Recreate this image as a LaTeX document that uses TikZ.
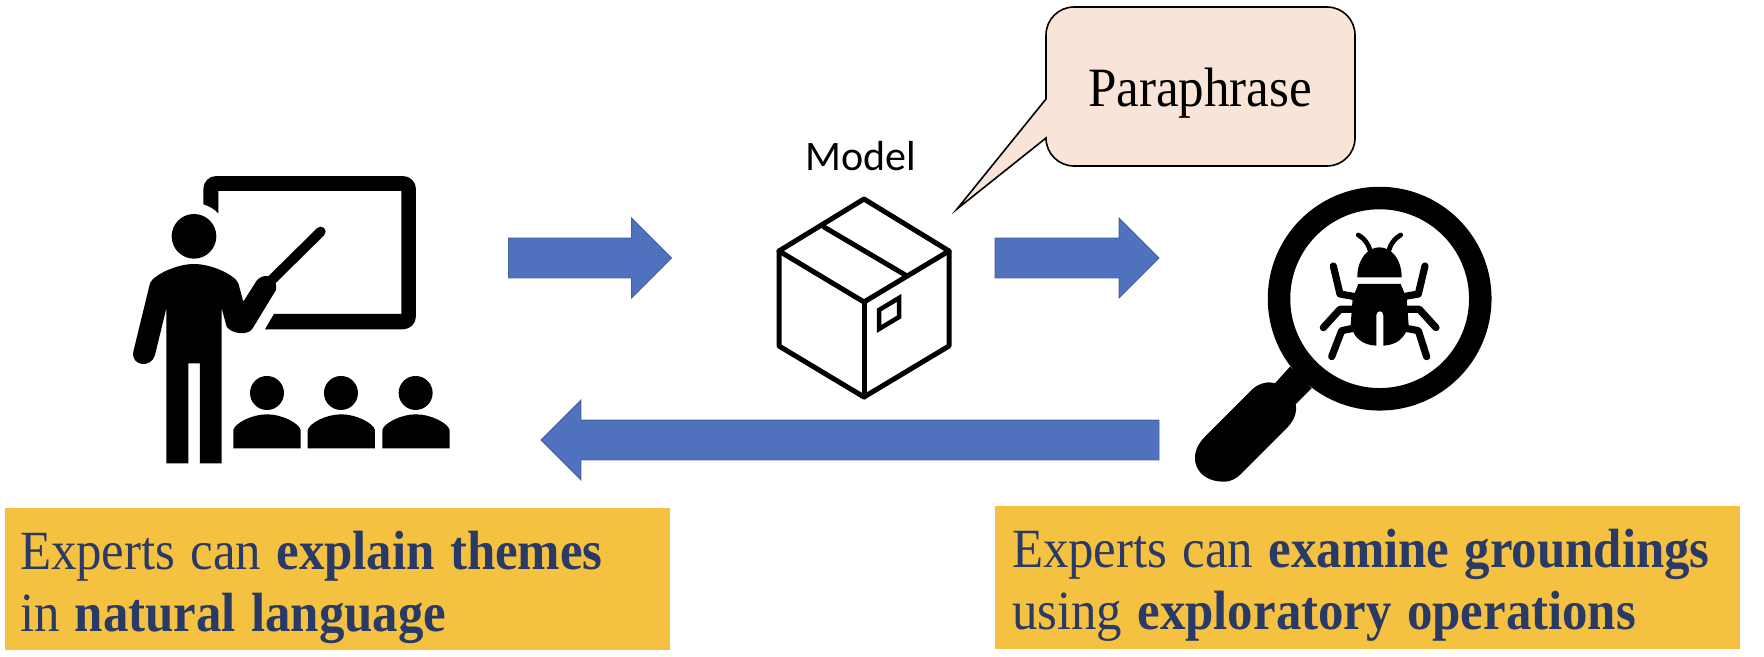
\documentclass[tikz,border=0pt]{standalone}
\usepackage{fontspec}
\setmainfont[FakeStretch=0.92, WordSpace=1.2]{Liberation Serif}
\newfontfamily\modelfont{Carlito}
\usetikzlibrary{shapes.arrows}
\definecolor{flowblue}{HTML}{4F71BE}
\definecolor{flowedge}{HTML}{41649E}
\definecolor{notefill}{HTML}{F4C141}
\definecolor{noteink}{HTML}{2A3A66}
\definecolor{bubblefill}{HTML}{F8E5D7}

\begin{document}
\begin{tikzpicture}[
    x=1pt, y=-1pt,
    flow/.style={single arrow, draw=flowedge, fill=flowblue, line width=0.8pt, inner sep=19.5pt, outer sep=0pt,
        minimum width=79pt, single arrow head extend=20pt, anchor=tail},
    note/.style={fill=notefill, anchor=north west, outer sep=0pt, inner sep=0pt},
    notetext/.style={text=noteink, inner sep=0pt, align=flush left, font=\fontsize{55.3}{61.5}\selectfont},
    boxedge/.style={line width=5pt, line join=round, line cap=round},
    leg/.style={line width=7.2pt, line cap=round, line join=round},
    antenna/.style={line width=4.8pt, line cap=round},
    bubble/.style={fill=bubblefill, draw=black, line width=1.6pt}
    ]
\useasboundingbox (0,0) rectangle (1764,656);

% Block arrows
\node[flow, minimum height=163pt] (explain) at (508.5,258) {};
\node[flow, minimum height=164pt] (inspect) at (995,258) {};
\node[flow, minimum height=618pt, shape border rotate=180] (feedback) at (1159,440) {};

% Teacher icon
\begin{scope}[shift={(100,150)}, x=0.3333pt, y=-0.3333pt]
\fill (310,163) {[rounded corners=13pt] -- (310,78) -- (948,78) -- (948,538) -- (700,538)} -- (495,538) -- (522,492) -- (904,492)
    -- (904,123) -- (355,123) -- (355,190) .. controls (342,176) and (327,168) .. (310,163) -- cycle;
\fill (282,259) circle[radius=67];
\draw[line width=10pt, line cap=round] (510,395) -- (662,245);
\fill (150,400) .. controls (160,375) and (230,342) .. (282,342) .. controls (335,342) and (405,375) .. (415,400)
    -- (430,455) -- (470,392) .. controls (485,370) and (535,370) .. (528,420) -- (458,535)
    .. controls (445,558) and (395,552) .. (380,530) -- (365,475) -- (365,940) -- (300,940) -- (300,640) -- (265,640)
    -- (265,940) -- (199,940) -- (199,475) -- (165,615) .. controls (155,655) and (92,650) .. (100,605) -- cycle;

% Students
\fill (501,729) circle[radius=51];
\fill (723,729) circle[radius=51];
\fill (947,729) circle[radius=51];
\fill (400,895) -- (400,840) .. controls (405,820) and (455,793) .. (501,793) .. controls (547,793) and (597,820) .. (602,840) -- (602,895) -- cycle;
\fill (623,895) -- (623,840) .. controls (628,820) and (678,793) .. (724,793) .. controls (770,793) and (820,820) .. (825,840) -- (825,895) -- cycle;
\fill (847,895) -- (847,840) .. controls (852,820) and (902,793) .. (948,793) .. controls (994,793) and (1044,820) .. (1049,840) -- (1049,895) -- cycle;
\end{scope}

% Model box
\node[font=\modelfont\fontsize{42}{50}\selectfont, anchor=base] (model label) at (861,170) {Model};
\draw[boxedge] (864,199) -- (949,251) -- (949,346) -- (864,397) -- (779,346) -- (779,251) -- cycle;
\draw[boxedge] (779,251) -- (864,302) -- (949,251);
\draw[boxedge] (864,302) -- (864,397);
\draw[boxedge] (824,227) -- (907,276);
\draw[line width=4.5pt, line join=miter] (879,310) -- (899,298) -- (899,317) -- (879,329) -- cycle;

% Callout
\draw[bubble] (1046,99) -- (957,209) -- (1046,138) {[rounded corners=28pt] -- (1046,166) -- (1355,166) -- (1355,7) -- (1046,7) -- (1046,99)} -- cycle;
\node[font=\fontsize{55.5}{62}\selectfont, anchor=base] (paraphrase) at (1200,106) {Paraphrase};

% Magnifier and bug
\begin{scope}[shift={(1170,170)}, x=0.3333pt, y=-0.3333pt]
\draw[line width=22.5pt] (629,386) circle[radius=302];
\fill (360,590) -- (315,640) .. controls (290,632) and (260,642) .. (240,665) -- (105,800)
    .. controls (45,860) and (80,935) .. (160,935) .. controls (185,935) and (200,925) .. (215,910) -- (350,775)
    .. controls (372,752) and (382,728) .. (377,703) -- (425,655) -- cycle;
\fill (562,322) .. controls (562,265) and (595,232) .. (628,232) .. controls (662,232) and (695,265) .. (695,322) -- cycle;
\fill (565,342) -- (692,342) -- (710,385) -- (716,465) .. controls (705,505) and (680,525) .. (640,527) -- (640,435)
    .. controls (640,420) and (619,420) .. (619,435) -- (619,527) .. controls (578,525) and (552,505) .. (542,465)
    -- (548,385) -- cycle;
\draw[antenna] (565,195) .. controls (583,205) and (595,222) .. (600,240);
\draw[antenna] (692,195) .. controls (674,205) and (662,222) .. (657,240);
\draw[leg] (490,288) -- (510,372) -- (555,380);
\draw[leg] (765,288) -- (745,372) -- (700,380);
\draw[leg] (460,473) -- (510,418) -- (548,418);
\draw[leg] (798,473) -- (748,418) -- (710,418);
\draw[leg] (485,560) -- (515,482) -- (550,475);
\draw[leg] (770,560) -- (745,482) -- (708,475);
\end{scope}

% Notes
\node[note, minimum width=665.5pt, minimum height=142pt] (note left) at (4.5,508) {};
\node[notetext, text width=634.5pt] (text left) at (337.25,587.5)
    {Experts can \textbf{explain themes}\\in \textbf{natural language}};
\node[note, minimum width=745pt, minimum height=143pt] (note right) at (995,506) {};
\node[notetext, text width=711pt] (text right) at (1367.5,585.5)
    {Experts can \textbf{examine groundings}\\using \textbf{exploratory operations}};

\end{tikzpicture}
\end{document}
